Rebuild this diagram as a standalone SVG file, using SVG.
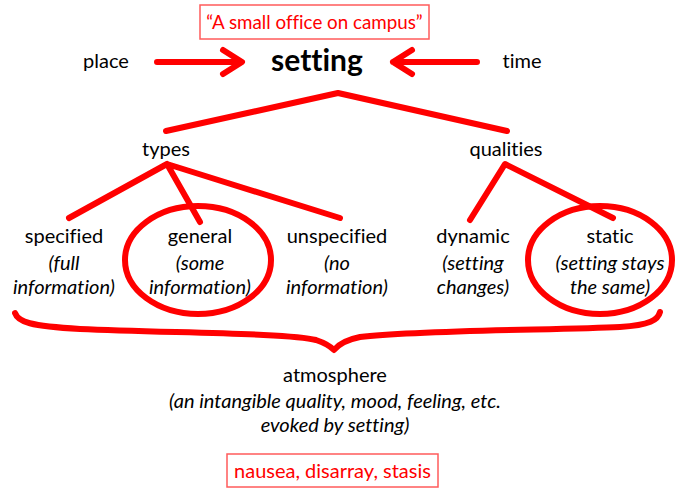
<svg xmlns="http://www.w3.org/2000/svg" width="677" height="489" viewBox="0 0 677 489">
<defs>
<style>
text{font-family:Lato,"Open Sans","Liberation Sans",sans-serif;fill:#000;text-anchor:middle;font-size:20px;font-variant-ligatures:none;font-feature-settings:"liga" 0,"dlig" 0}
.it{font-style:italic}
.red{fill:#ff0000}
.q{font-size:18.8px}
.bold{font-weight:bold;font-size:30px}
.box{fill:#fff;stroke:#ff5b5b;stroke-width:1.5}
.ln{fill:none;stroke:#ff0000;stroke-width:6;stroke-linecap:round;stroke-linejoin:round}
</style>
</defs>
<rect width="677" height="489" fill="#fff"/>
<g id="quote">
<rect class="box" x="200" y="5" width="229" height="34"/>
<text class="red q" x="314.5" y="29">“A small office on campus”</text>
</g>
<g id="place"><text x="106" y="68">place</text></g>
<g id="setting"><text class="bold" x="317" y="71">setting</text></g>
<g id="time"><text x="522" y="68">time</text></g>
<g id="types"><text x="166" y="156">types</text></g>
<g id="qualities"><text x="506" y="156">qualities</text></g>
<g id="specified"><text x="64" y="243">specified</text><text class="it" x="64" y="270">(full</text><text class="it" x="64" y="294">information)</text></g>
<g id="general"><text x="200" y="243">general</text><text class="it" x="200" y="270">(some</text><text class="it" x="200" y="294">information)</text></g>
<g id="unspecified"><text x="337" y="243">unspecified</text><text class="it" x="337" y="270">(no</text><text class="it" x="337" y="294">information)</text></g>
<g id="dynamic"><text x="473" y="243">dynamic</text><text class="it" x="473" y="270">(setting</text><text class="it" x="473" y="294">changes)</text></g>
<g id="static"><text x="610" y="243">static</text><text class="it" x="610" y="270">(setting stays</text><text class="it" x="610" y="294">the same)</text></g>
<g id="atmosphere"><text x="335" y="382">atmosphere</text><text class="it" x="335" y="408">(an intangible quality, mood, feeling, etc.</text><text class="it" x="335" y="432">evoked by setting)</text></g>
<g id="examples">
<rect class="box" x="227" y="454" width="211" height="33"/>
<text class="red" x="332.5" y="478">nausea, disarray, stasis</text>
</g>
<g id="connectors" class="ln">
<path class="ln" d="M157 62H241M223 50L242 62L223 74"/>
<path class="ln" d="M477 62H393M412 50L393 62L412 74"/>
<path class="ln" d="M166 131L338 93L507 131"/>
<path class="ln" d="M69 218L167 164L200 222M167 164L340 218"/>
<path class="ln" d="M470 220L505 164L613 218"/>
<ellipse class="ln" cx="198" cy="260" rx="73" ry="54"/>
<ellipse class="ln" cx="600" cy="260" rx="72" ry="54"/>
<path class="ln" d="M15 313C18 322 30 326 80 329C170 333 290 333 316 340C325 343 330 346 334 350C338 345 345 340 360 337C420 330 560 330 620 327C650 325 658 320 660 312"/>
</g>
</svg>
